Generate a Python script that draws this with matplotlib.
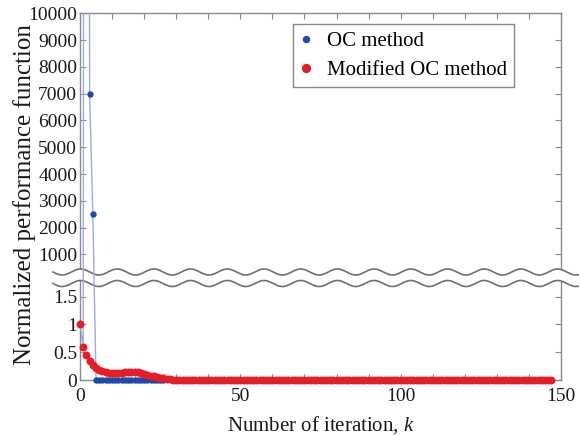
import numpy as np
import matplotlib
matplotlib.use("Agg")
import matplotlib.pyplot as plt
from matplotlib.lines import Line2D
from matplotlib.patches import Polygon

plt.rcParams["font.family"] = ["Liberation Serif", "DejaVu Serif"]
plt.rcParams["mathtext.fontset"] = "custom"
plt.rcParams["mathtext.it"] = "Liberation Serif:italic"
plt.rcParams["mathtext.rm"] = "Liberation Serif"

# ── data ─────────────────────────────────────────────────────────────────
# OC method: blows up in the first iterations, then sits at ~0
OC_K = list(range(0, 27))
OC_VAL = [1.0, 0.6, 120000.0, 7000.0, 2500.0] + [0.0] * 22

# Modified OC method
MOC_HEAD = [1.0, 0.60, 0.45, 0.34, 0.27, 0.22, 0.18, 0.155, 0.135, 0.125,
            0.12, 0.12, 0.125, 0.13, 0.135, 0.14, 0.14, 0.14, 0.135, 0.125,
            0.11, 0.095, 0.08, 0.065, 0.05, 0.038, 0.027, 0.018, 0.01, 0.005,
            0.002]
MOC_VAL = MOC_HEAD + [0.0] * 117
MOC_K = list(range(len(MOC_VAL)))

LOW_TICKS = [0, 0.5, 1, 1.5]
LOW_LABELS = ["0", "0.5", "1", "1.5"]
HIGH_TICKS = [1000, 2000, 3000, 4000, 5000, 6000, 7000, 8000, 9000, 10000]
X_TICKS = list(range(0, 151, 10))
X_LABELS = ["0", "", "", "", "", "50", "", "", "", "", "100", "", "", "", "", "150"]

BLUE = "#1f4aa8"
BLUE_LINE = "#94aee6"
RED = "#e31e24"
GREY = "#8a8a8a"

# ── broken y axis as a piecewise-linear scale (units ~ pixels) ────────────
LO, HI = 1.75, 350.0
K1 = 55.6             # px per unit in lower part
K2, OFF = 0.0268, 98.7  # upper part: px = OFF + K2*y
P_LO, P_HI = LO * K1, OFF + K2 * HI


def fwd(y):
    y = np.asarray(y, dtype=float)
    mid = P_LO + (y - LO) * (P_HI - P_LO) / (HI - LO)
    return np.where(y <= LO, y * K1, np.where(y >= HI, OFF + K2 * y, mid))


def inv(p):
    p = np.asarray(p, dtype=float)
    mid = LO + (p - P_LO) * (HI - LO) / (P_HI - P_LO)
    return np.where(p <= P_LO, p / K1, np.where(p >= P_HI, (p - OFF) / K2, mid))


W, H = 579, 436
fig = plt.figure(figsize=(W / 100, H / 100), dpi=100)
ax = fig.add_axes([80 / W, 1 - 380 / H, (561 - 80) / W, (380 - 13.3) / H])
ax.set_yscale("function", functions=(fwd, inv))
ax.set_xlim(0, 150)
ax.set_ylim(0, 10000)

ok = np.array(OC_VAL) <= 10000
ax.plot(OC_K, OC_VAL, color=BLUE_LINE, lw=1.0, zorder=3)
ax.plot(np.array(OC_K)[ok], np.array(OC_VAL)[ok], ls="none", marker="o",
        ms=3.6, color=BLUE, mec=BLUE, clip_on=False, zorder=5, label="OC method")
ax.plot(MOC_K, MOC_VAL, ls="none", marker="o", ms=4.7, color=RED, mec=RED,
        clip_on=False, zorder=6, label="Modified OC method")

ax.set_yticks(LOW_TICKS + HIGH_TICKS)
ax.set_yticklabels(LOW_LABELS + [str(v) for v in HIGH_TICKS])
ax.set_xticks(X_TICKS)
ax.set_xticklabels(X_LABELS)
ax.yaxis.set_minor_locator(matplotlib.ticker.NullLocator())
ax.tick_params(direction="in", length=4, width=0.8, color=GREY,
               top=True, right=True, labelsize=14, labelcolor="#1a1a1a")
ax.tick_params(axis="y", pad=2)
ax.tick_params(axis="x", pad=6)
for s in ax.spines.values():
    s.set_color(GREY)
    s.set_linewidth(1.0)

# ── wavy break marks ─────────────────────────────────────────────────────
xs = np.linspace(53, W, 400)
wave = 3.0 * np.sin(2 * np.pi * (xs - 53) / 36.7)
y_up, y_dn = 272.0, 283.5
to_fig = lambda x, y: np.column_stack([x / W, 1 - y / H])
band = np.vstack([to_fig(xs, y_up + wave), to_fig(xs[::-1], y_dn + wave[::-1])])
ax.add_patch(Polygon(band, closed=True, facecolor="white", edgecolor="none",
                     transform=fig.transFigure, clip_on=False, zorder=2.6))
for yy in (y_up, y_dn):
    pts = to_fig(xs, yy + wave)
    ax.add_line(Line2D(pts[:, 0], pts[:, 1], color="#707070", lw=1.2,
                       transform=fig.transFigure, clip_on=False, zorder=2.7))

leg = ax.legend(loc="upper left", bbox_to_anchor=(0.442, 0.97), borderaxespad=0,
                fontsize=15, frameon=True, fancybox=False, edgecolor=GREY,
                framealpha=1, handlelength=0.6, handletextpad=0.7,
                borderpad=0.35, labelspacing=0.45, markerscale=1.2)
leg.get_frame().set_linewidth(1.0)

fig.text(321 / W, 1 - 425 / H, "Number of iteration, $k$", fontsize=15,
         ha="center", va="center", color="#1a1a1a")
fig.text(25 / W, 1 - 195 / H, "Normalized performance function", fontsize=18,
         rotation=90, ha="center", va="center", color="#1a1a1a")

fig.savefig("out.png", dpi=100)
